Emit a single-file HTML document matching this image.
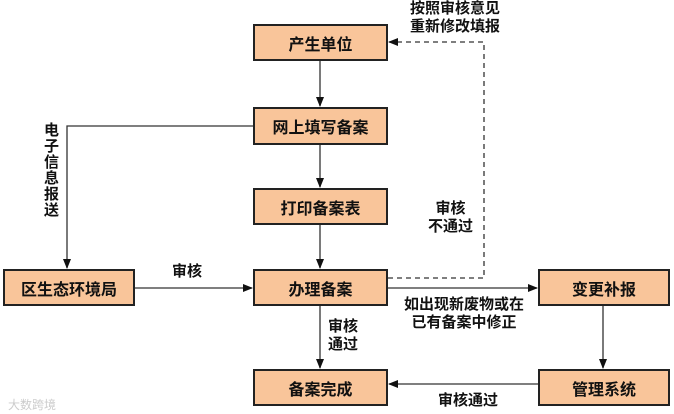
<!DOCTYPE html>
<html><head><meta charset="utf-8"><style>
body{margin:0;width:674px;height:414px;background:#fff;overflow:hidden;position:relative;font-family:"Liberation Sans","Noto Sans CJK SC",sans-serif;}
.b{position:absolute;background:#f9c59a;border:2px solid #222;box-sizing:border-box;display:flex;align-items:center;justify-content:center;font-size:16px;font-weight:bold;color:#111;}
.t{position:absolute;font-size:15px;font-weight:bold;color:#111;line-height:18px;}
svg{position:absolute;left:0;top:0}
</style></head><body>
<svg width="674" height="414">
<defs><marker id="a" markerWidth="10" markerHeight="8" refX="9" refY="4" orient="auto" markerUnits="userSpaceOnUse"><path d="M0,0L10,4L0,8z" fill="#111"/></marker></defs>
<g stroke="#333" stroke-width="1.3" fill="none">
<line x1="320" y1="61" x2="320" y2="106" marker-end="url(#a)"/>
<line x1="320" y1="145" x2="320" y2="187" marker-end="url(#a)"/>
<line x1="320" y1="225" x2="320" y2="268" marker-end="url(#a)"/>
<line x1="320" y1="306" x2="320" y2="368" marker-end="url(#a)"/>
<polyline points="253,126 67,126 67,268" marker-end="url(#a)"/>
<line x1="135" y1="288" x2="252" y2="288" marker-end="url(#a)"/>
<line x1="388" y1="288" x2="537" y2="288" marker-end="url(#a)"/>
<line x1="603" y1="306" x2="603" y2="368" marker-end="url(#a)"/>
<line x1="538" y1="384" x2="389" y2="384" marker-end="url(#a)"/>
<polyline points="388,278 484,278 484,42 389,42" stroke-dasharray="5,4" marker-end="url(#a)"/>
</g></svg>
<div class="b" style="left:253px;top:24px;width:135px;height:37px">产生单位</div>
<div class="b" style="left:253px;top:107px;width:135px;height:38px">网上填写备案</div>
<div class="b" style="left:253px;top:188px;width:135px;height:37px">打印备案表</div>
<div class="b" style="left:253px;top:269px;width:135px;height:37px">办理备案</div>
<div class="b" style="left:253px;top:369px;width:135px;height:37px">备案完成</div>
<div class="b" style="left:3px;top:269px;width:132px;height:37px">区生态环境局</div>
<div class="b" style="left:538px;top:269px;width:132px;height:37px">变更补报</div>
<div class="b" style="left:538px;top:369px;width:132px;height:37px">管理系统</div>
<div class="t" style="left:410px;top:0px">按照审核意见<br>重新修改填报</div>
<div class="t" style="left:44px;top:123px;width:16px;line-height:16px">电子信息报送</div>
<div class="t" style="left:172px;top:263px">审核</div>
<div class="t" style="left:428px;top:200px;text-align:center">审核<br>不通过</div>
<div class="t" style="left:328px;top:318px">审核<br>通过</div>
<div class="t" style="left:404px;top:296px;text-align:center">如出现新废物或在<br>已有备案中修正</div>
<div class="t" style="left:438px;top:392px">审核通过</div>
<div style="position:absolute;left:8px;top:396px;font-size:12px;color:#ccc">大数跨境</div>
</body></html>
